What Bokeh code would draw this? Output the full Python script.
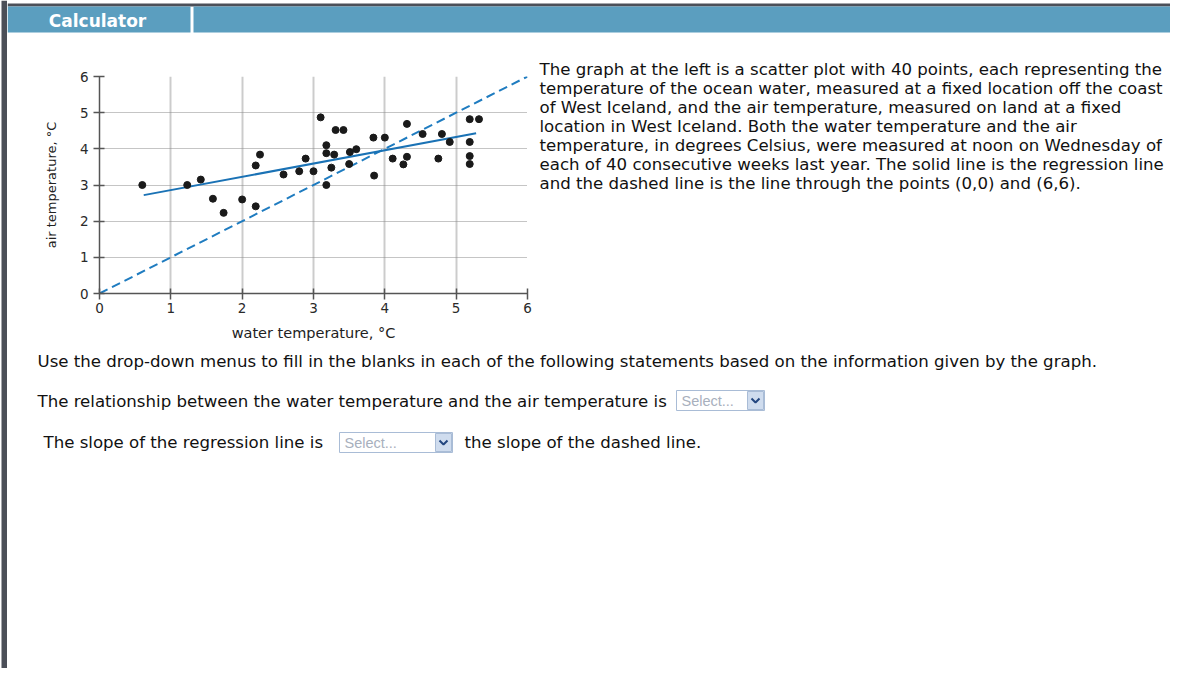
from bokeh.plotting import figure
from bokeh.models import Label, Range1d, FixedTicker
from bokeh.layouts import row, column
from bokeh.embed import file_html
from bokeh.resources import INLINE

# ---- data ----
water_temp = [0.60, 1.23, 1.42, 1.59, 1.74, 2.00, 2.19, 2.19, 2.25, 2.58,
              2.80, 2.89, 3.00, 3.10, 3.18, 3.18, 3.18, 3.25, 3.29, 3.31,
              3.42, 3.50, 3.51, 3.60, 3.84, 3.85, 4.00, 4.11, 4.26, 4.31,
              4.31, 4.53, 4.75, 4.80, 4.91, 5.19, 5.19, 5.19, 5.19, 5.32]
air_temp = [3.00, 3.00, 3.15, 2.62, 2.23, 2.60, 3.54, 2.41, 3.84, 3.29,
            3.38, 3.73, 3.38, 4.87, 4.10, 3.88, 3.00, 3.48, 3.84, 4.52,
            4.52, 3.58, 3.91, 3.99, 4.31, 3.26, 4.31, 3.73, 3.57, 3.78,
            4.69, 4.41, 3.73, 4.41, 4.19, 4.82, 4.19, 3.80, 3.58, 4.82]
reg_x = [0.62, 5.28]
reg_y = [2.72, 4.43]
dash_x = [0, 6]
dash_y = [0, 6]
ticks = [0, 1, 2, 3, 4, 5, 6]

x_label = "water temperature, \u00b0C"
y_label = "air temperature, \u00b0C"
header_text = "Calculator"
para_lines = [
    "The graph at the left is a scatter plot with 40 points, each representing the",
    "temperature of the ocean water, measured at a fixed location off the coast",
    "of West Iceland, and the air temperature, measured on land at a fixed",
    "location in West Iceland. Both the water temperature and the air",
    "temperature, in degrees Celsius, were measured at noon on Wednesday of",
    "each of 40 consecutive weeks last year. The solid line is the regression line",
    "and the dashed line is the line through the points (0,0) and (6,6).",
]
instr = "Use the drop-down menus to fill in the blanks in each of the following statements based on the information given by the graph."
q1 = "The relationship between the water temperature and the air temperature is"
q2a = "The slope of the regression line is"
q2b = "the slope of the dashed line."
select_text = "Select..."

FONT = "DejaVu Sans"
TEXT_SIZE = "16.6px"
TEXT_COLOR = "#111111"
BLUE_BAR = "#5b9ebf"
DARK = "#4b4f58"


def blank(w, h, bg="white"):
    f = figure(width=w, height=h, x_range=Range1d(0, w), y_range=Range1d(h, 0),
               output_backend="svg", toolbar_location=None,
               x_axis_location=None, y_axis_location=None, min_border=0,
               frame_align=False)
    f.grid.visible = False
    f.outline_line_color = None
    f.background_fill_color = bg
    f.border_fill_color = bg
    return f


def lab(f, x, y, text, size=TEXT_SIZE, color=TEXT_COLOR, align="left",
        font=FONT, style="normal"):
    f.add_layout(Label(x=x, y=y, text=text, text_font=font, text_font_size=size,
                       text_color=color, text_align=align, text_baseline="middle",
                       text_font_style=style))


def rect(f, l, r, t, b, fill, line=None):
    f.quad(left=[l], right=[r], top=[t], bottom=[b], fill_color=fill,
           line_color=line, line_width=1)


def chevron(f, cx, cy):
    f.line([cx - 4, cx, cx + 4], [cy - 2, cy + 2, cy - 2], line_color="#23467f",
           line_width=2)


# ---- left border ----
left = blank(7, 668)
rect(left, 1, 7, 0, 668, DARK)

# ---- header ----
HW = 1163
header = blank(HW, 34)
rect(header, 0, HW, 3, 6, DARK)
rect(header, 0, 183, 6, 32, BLUE_BAR)
rect(header, 186, HW, 6, 32, BLUE_BAR)
lab(header, 90, 20, header_text, size="17px", color="white", align="center",
    style="bold")

# ---- chart ----
CW, CH = 525, 311
p = figure(width=CW, height=CH, x_range=Range1d(0, 6), y_range=Range1d(0, 6),
           output_backend="svg", toolbar_location=None,
           min_border_left=92, min_border_right=5,
           min_border_top=42, min_border_bottom=52, frame_align=False)
p.outline_line_color = None
p.background_fill_color = "white"
p.border_fill_color = "white"

for ax in (p.xaxis[0], p.yaxis[0]):
    ax.ticker = FixedTicker(ticks=ticks)
    ax.axis_line_color = "#555555"
    ax.axis_line_width = 1.5
    ax.major_tick_line_color = "#555555"
    ax.major_tick_line_width = 1.5
    ax.major_tick_in = 5
    ax.major_tick_out = 6
    ax.minor_tick_line_color = None
    ax.major_label_text_font = FONT
    ax.major_label_text_font_size = "13.5px"
    ax.major_label_text_color = "#2a2a2a"
    ax.axis_label_text_font = FONT
    ax.axis_label_text_font_style = "normal"
    ax.axis_label_text_color = "#222222"

p.xaxis.axis_label = x_label
p.yaxis.axis_label = y_label
p.xaxis.axis_label_text_font_size = "14.5px"
p.yaxis.axis_label_text_font_size = "13px"
p.xaxis.major_label_standoff = 3
p.xaxis.axis_label_standoff = 9
p.yaxis.major_label_standoff = 5
p.yaxis.axis_label_standoff = 18

p.xgrid.ticker = FixedTicker(ticks=ticks)
p.ygrid.ticker = FixedTicker(ticks=ticks)
p.xgrid.grid_line_color = "#cccccc"
p.xgrid.grid_line_width = 2
p.ygrid.grid_line_color = "#8a8a8a"
p.ygrid.grid_line_dash = "1 1"
p.ygrid.grid_line_width = 1

p.line(dash_x, dash_y, line_color="#1f7cc0", line_width=2, line_dash="9 5")
p.line(reg_x, reg_y, line_color="#1a72b5", line_width=2)
p.scatter(water_temp, air_temp, size=7, fill_color="#1a1a1a", line_color="#1a1a1a")

# ---- paragraph ----
para = blank(HW - CW, CH)
for i, line in enumerate(para_lines):
    lab(para, 7, 35 + 19 * i, line)

# ---- questions ----
bottom = blank(HW, 668 - 34 - CH)
lab(bottom, 30, 16, instr)
lab(bottom, 30, 56, q1)
lab(bottom, 36, 97, q2a)
lab(bottom, 457, 97, q2b)

rect(bottom, 669, 757, 45, 65, "white", "#a9bcd6")
rect(bottom, 740, 756, 46, 64, "#cfdcee", "#a9bcd6")
lab(bottom, 674, 55, select_text, size="14.5px", color="#a8b0bd",
    font="Liberation Sans")
chevron(bottom, 748, 55)

rect(bottom, 332, 445, 87, 107, "white", "#a9bcd6")
rect(bottom, 428, 444, 88, 106, "#cfdcee", "#a9bcd6")
lab(bottom, 337, 97, select_text, size="14.5px", color="#a8b0bd",
    font="Liberation Sans")
chevron(bottom, 436, 97)

page = row(left, column(header, row(p, para), bottom))

open("out.html", "w").write(file_html(page, INLINE))
